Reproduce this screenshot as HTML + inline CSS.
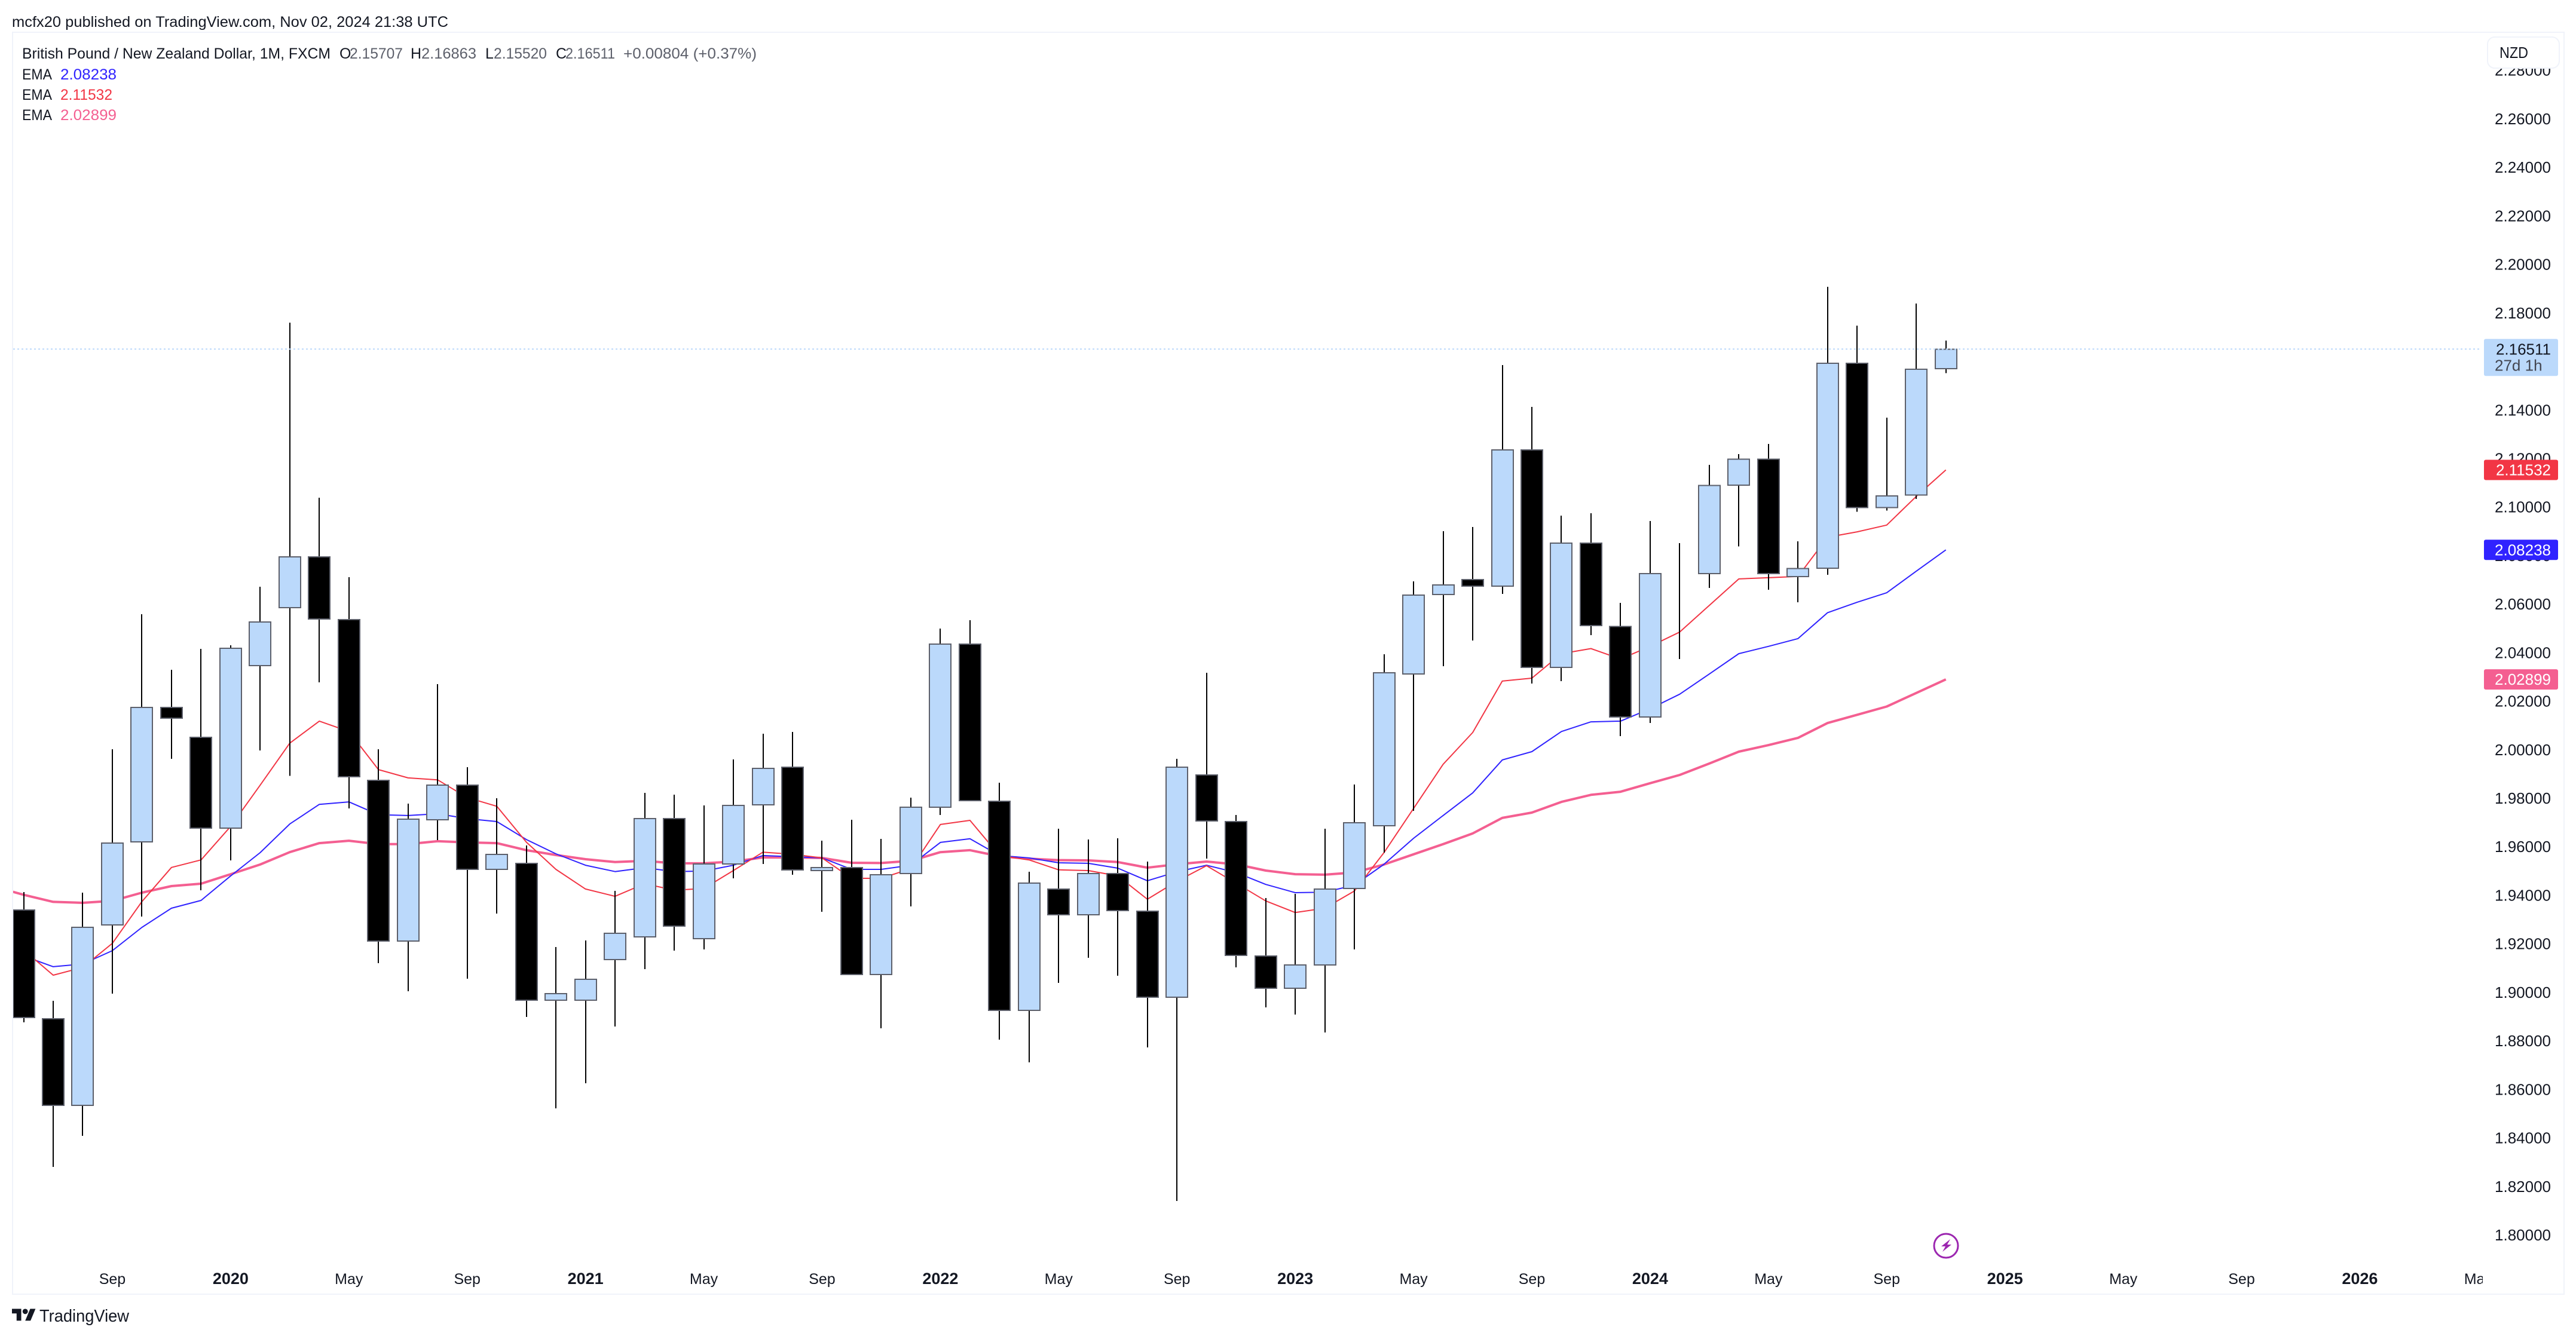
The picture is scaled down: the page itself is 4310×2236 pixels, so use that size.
<!DOCTYPE html>
<html lang="en">
<head>
<meta charset="utf-8">
<title>GBP/NZD monthly chart</title>
<style>
html,body{margin:0;padding:0;background:#fff;width:4310px;height:2236px;overflow:hidden}
svg{display:block;font-family:"Liberation Sans",sans-serif}
</style>
</head>
<body>
<svg id="chart" xmlns="http://www.w3.org/2000/svg" width="4310" height="2236" viewBox="0 0 4310 2236">
  <defs>
    <clipPath id="plot-clip"><rect x="22" y="55" width="4130" height="2110"/></clipPath>
    <clipPath id="time-clip"><rect x="22" y="2110" width="4132" height="55"/></clipPath>
  </defs>
  <rect x="0" y="0" width="4310" height="2236" fill="#ffffff"/>
  <text x="20" y="45" font-size="25" fill="#131722" textLength="730" lengthAdjust="spacingAndGlyphs">mcfx20 published on TradingView.com, Nov 02, 2024 21:38 UTC</text>
  <rect x="21" y="54" width="4269" height="2112" fill="none" stroke="#f0f3fa" stroke-width="2"/>

  <g id="ema-layer" clip-path="url(#plot-clip)"></g>
  <g id="candle-layer" clip-path="url(#plot-clip)" shape-rendering="crispEdges"></g>
  <g id="price-line-layer" clip-path="url(#plot-clip)"></g>

  <g id="y-axis" font-size="26" fill="#131722" text-anchor="end"></g>
  <g id="x-axis" clip-path="url(#time-clip)" font-size="25" fill="#131722" text-anchor="middle"></g>

  <g>
    <rect x="4162" y="62" width="120" height="52" rx="12" fill="#ffffff" stroke="#f0f3fa" stroke-width="2"/>
    <text x="4182" y="97" font-size="26" fill="#131722" textLength="48" lengthAdjust="spacingAndGlyphs">NZD</text>
  </g>

  <g id="badge-layer" font-size="26"></g>

  <g font-size="25">
    <text x="37" y="98" fill="#131722" textLength="516" lengthAdjust="spacingAndGlyphs">British Pound / New Zealand Dollar, 1M, FXCM</text>
    <text x="568" y="98" fill="#131722">O</text>
    <text x="585" y="98" fill="#5d606b" textLength="89" lengthAdjust="spacingAndGlyphs">2.15707</text>
    <text x="687" y="98" fill="#131722">H</text>
    <text x="705" y="98" fill="#5d606b" textLength="92" lengthAdjust="spacingAndGlyphs">2.16863</text>
    <text x="812" y="98" fill="#131722">L</text>
    <text x="826" y="98" fill="#5d606b" textLength="89" lengthAdjust="spacingAndGlyphs">2.15520</text>
    <text x="930" y="98" fill="#131722">C</text>
    <text x="946" y="98" fill="#5d606b" textLength="83" lengthAdjust="spacingAndGlyphs">2.16511</text>
    <text x="1043" y="98" fill="#5d606b" textLength="223" lengthAdjust="spacingAndGlyphs">+0.00804 (+0.37%)</text>
    <text x="37" y="133" fill="#131722" textLength="50" lengthAdjust="spacingAndGlyphs">EMA</text>
    <text x="101" y="133" fill="#3023ff" textLength="94" lengthAdjust="spacingAndGlyphs">2.08238</text>
    <text x="37" y="167" fill="#131722" textLength="50" lengthAdjust="spacingAndGlyphs">EMA</text>
    <text x="101" y="167" fill="#f23645" textLength="87" lengthAdjust="spacingAndGlyphs">2.11532</text>
    <text x="37" y="201" fill="#131722" textLength="50" lengthAdjust="spacingAndGlyphs">EMA</text>
    <text x="101" y="201" fill="#f45f91" textLength="94" lengthAdjust="spacingAndGlyphs">2.02899</text>
  </g>

  <g>
    <circle cx="3256" cy="2085" r="20" fill="#ffffff" stroke="#9c27b0" stroke-width="3"/>
    <path d="M3263 2074 L3248 2086 L3255 2086 L3250 2095 L3265 2083 L3258 2083 Z" fill="#9c27b0"/>
  </g>

  <g>
    <g transform="translate(20 2186) scale(1.11 1.11)" fill="#131722">
      <path d="M14 22H7V11H0V4h14v18zM28 22h-8l7.5-18h8L28 22z"/>
      <circle cx="20" cy="8" r="4"/>
    </g>
    <text x="66" y="2212" font-size="29" fill="#131722" textLength="150" lengthAdjust="spacingAndGlyphs">TradingView</text>
  </g>
</svg>
<script>
// Monthly candles, Jun 2019 to Nov 2024
const openPrices = [
1.9340,1.8891,1.8534,1.9278,1.9620,2.0174,2.0051,1.9677,2.0347,2.0586,
2.0795,2.0536,1.9874,1.9212,1.9711,1.9854,1.9507,1.9532,1.8968,1.8968,
1.9135,1.9229,1.9716,1.9221,1.9529,1.9773,1.9928,1.9502,1.9514,1.9074,
1.9490,1.9763,2.0435,1.9788,1.8926,1.9426,1.9320,1.9490,1.9335,1.8980,
1.9896,1.9704,1.9150,1.9017,1.9113,1.9428,1.9687,2.0312,2.0640,2.0701,
2.0674,2.1236,2.0339,2.0852,2.0508,2.0135,2.0729,2.0726,2.1090,2.1198,
2.0714,2.0748,2.1593,2.0998,2.1050,2.15707];
const highPrices = [
1.9413,1.8965,1.9411,2.0002,2.0559,2.0330,2.0416,2.0431,2.0672,2.1760,
2.1039,2.0711,2.0002,1.9778,2.0270,1.9928,1.9800,1.9606,1.9187,1.9214,
1.9418,1.9822,1.9815,1.9771,1.9960,2.0066,2.0073,1.9625,1.9711,1.9633,
1.9803,2.0499,2.0534,1.9864,1.9497,1.9675,1.9630,1.9635,1.9539,1.9963,
2.0317,1.9731,1.9389,1.9406,1.9675,1.9857,2.0394,2.0694,2.0901,2.0918,
2.1585,2.1413,2.0965,2.0975,2.0605,2.0943,2.0852,2.1174,2.1218,2.1260,
2.0859,2.1908,2.1748,2.1369,2.1839,2.16863];
const lowPrices = [
1.8877,1.8281,1.8409,1.8995,1.9313,1.9963,1.9421,1.9544,1.9997,1.9892,
2.0278,1.9758,1.9120,1.9005,1.9628,1.9056,1.9325,1.8899,1.8522,1.8625,
1.8859,1.9096,1.9172,1.9177,1.9470,1.9529,1.9485,1.9332,1.9074,1.8852,
1.9354,1.9731,1.9790,1.8805,1.8712,1.9039,1.9143,1.9069,1.8773,1.8140,
1.9551,1.9103,1.8938,1.8909,1.8835,1.9177,1.9576,1.9748,2.0344,2.0450,
2.0642,2.0273,2.0283,2.0472,2.0056,2.0110,2.0374,2.0667,2.0838,2.0660,
2.0608,2.0721,2.0981,2.0986,2.1034,2.15520];
const closePrices = [
1.8896,1.8534,1.9268,1.9615,2.0174,2.0130,1.9677,2.0418,2.0527,2.0795,
2.0539,1.9889,1.9212,1.9714,1.9854,1.9507,1.9569,1.8968,1.8995,1.9054,
1.9244,1.9716,1.9273,1.9529,1.9771,1.9923,1.9505,1.9514,1.9074,1.9485,
1.9763,2.0435,1.9790,1.8926,1.9450,1.9320,1.9490,1.9337,1.8980,1.9928,
1.9707,1.9152,1.9017,1.9113,1.9426,1.9699,2.0317,2.0637,2.0679,2.0674,
2.1236,2.0339,2.0852,2.0512,2.0135,2.0726,2.0729,2.1089,2.1198,2.0726,
2.0747,2.1593,2.0998,2.1046,2.1568,2.16511];

// EMA series: the first value belongs to the month before the first candle (May 2019)
const emaBlue = [1.9202,
1.9150,1.9106,1.9117,1.9172,1.9268,1.9347,1.9379,1.9480,1.9576,1.9694,
1.9775,1.9785,1.9732,1.9729,1.9736,1.9716,1.9704,1.9630,1.9571,1.9524,
1.9498,1.9514,1.9498,1.9500,1.9524,1.9564,1.9559,1.9554,1.9507,1.9507,
1.9524,1.9618,1.9633,1.9564,1.9554,1.9534,1.9532,1.9512,1.9460,1.9497,
1.9524,1.9494,1.9445,1.9411,1.9413,1.9442,1.9528,1.9635,1.9729,1.9822,
1.9958,1.9992,2.0075,2.0115,2.0118,2.0169,2.0229,2.0312,2.0396,2.0426,
2.0458,2.0565,2.0608,2.0647,2.0736,2.08238];
const emaRed = [1.9253,
1.9175,1.9071,1.9103,1.9202,1.9374,1.9515,1.9546,1.9684,1.9854,2.0027,
2.0118,2.0075,1.9918,1.9884,1.9876,1.9803,1.9767,1.9619,1.9507,1.9426,
1.9396,1.9448,1.9421,1.9428,1.9502,1.9578,1.9569,1.9554,1.9470,1.9470,
1.9510,1.9692,1.9709,1.9564,1.9546,1.9505,1.9502,1.9480,1.9384,1.9458,
1.9522,1.9450,1.9377,1.9329,1.9347,1.9418,1.9576,1.9758,1.9940,2.0071,
2.0283,2.0295,2.0396,2.0417,2.0374,2.0426,2.0485,2.0595,2.0704,2.0709,
2.0714,2.0876,2.0898,2.0926,2.1044,2.11532];
const emaPink = [1.9436,
1.9402,1.9373,1.9369,1.9377,1.9411,1.9438,1.9448,1.9487,1.9527,1.9578,
1.9615,1.9625,1.9611,1.9611,1.9623,1.9618,1.9615,1.9586,1.9566,1.9549,
1.9537,1.9542,1.9532,1.9532,1.9539,1.9556,1.9556,1.9554,1.9534,1.9533,
1.9542,1.9578,1.9586,1.9561,1.9551,1.9545,1.9544,1.9537,1.9514,1.9528,
1.9539,1.9528,1.9502,1.9487,1.9485,1.9494,1.9527,1.9569,1.9611,1.9655,
1.9719,1.9741,1.9785,1.9814,1.9827,1.9862,1.9896,1.9943,1.9992,2.0019,
2.0049,2.0110,2.0144,2.0178,2.0234,2.02899];

const priceTicks = ["2.28000","2.26000","2.24000","2.22000","2.20000","2.18000","2.16000","2.14000","2.12000","2.10000","2.08000","2.06000","2.04000","2.02000","2.00000","1.98000","1.96000","1.94000","1.92000","1.90000","1.88000","1.86000","1.84000","1.82000","1.80000"];
const timeLabels = ["Sep","2020","May","Sep","2021","May","Sep","2022","May","Sep","2023","May","Sep","2024","May","Sep","2025","May","Sep","2026","May"];
const lastPrice = "2.16511";
const countdownLabel = "27d 1h";

function xScale(i) { return 39.5 + 49.48 * i; }
function yScale(p) { return 2067 - (p - 1.8) * 4061; }

const NS = "http://www.w3.org/2000/svg";
function make(tag, parent) {
  const el = document.createElementNS(NS, tag);
  parent.appendChild(el);
  return el;
}

const emaLayer = document.getElementById("ema-layer");
function drawEma(values, color, width, name) {
  const line = make("polyline", emaLayer);
  
  
  line.setAttribute("points", values.map(function (v, k) {
    return xScale(k - 1).toFixed(1) + "," + yScale(v).toFixed(1);
  }).join(" "));
  line.setAttribute("fill", "none");
  line.setAttribute("stroke", color);
  line.setAttribute("stroke-width", width);
  line.setAttribute("stroke-linejoin", "round");
}
drawEma(emaPink, "#f45f91", 4, "ema-pink-line");
drawEma(emaBlue, "#3023ff", 2, "ema-blue-line");
drawEma(emaRed, "#f23645", 2, "ema-red-line");

const candleLayer = document.getElementById("candle-layer");
openPrices.forEach(function (o, i) {
  const c = closePrices[i];
  const cx = Math.round(xScale(i));
  const up = c >= o;
  const wick = make("rect", candleLayer);
  
  
  wick.setAttribute("x", cx - 1);
  wick.setAttribute("y", yScale(highPrices[i]));
  wick.setAttribute("width", 2);
  wick.setAttribute("height", yScale(lowPrices[i]) - yScale(highPrices[i]));
  wick.setAttribute("fill", "#000000");
  const body = make("rect", candleLayer);
  
  
  body.setAttribute("x", cx - 18);
  body.setAttribute("y", yScale(Math.max(o, c)));
  body.setAttribute("width", 36);
  body.setAttribute("height", Math.abs(yScale(o) - yScale(c)));
  body.setAttribute("fill", up ? "#bbd9fb" : "#000000");
  body.setAttribute("stroke", "#5d606b");
  body.setAttribute("stroke-width", 2);
});

const priceLineLayer = document.getElementById("price-line-layer");
const priceLine = make("line", priceLineLayer);


priceLine.setAttribute("x1", 22);
priceLine.setAttribute("x2", 4152);
priceLine.setAttribute("y1", yScale(parseFloat(lastPrice)));
priceLine.setAttribute("y2", yScale(parseFloat(lastPrice)));
priceLine.setAttribute("stroke", "#bbd9fb");
priceLine.setAttribute("stroke-width", 2);
priceLine.setAttribute("stroke-dasharray", "3 4");

const yAxis = document.getElementById("y-axis");
priceTicks.forEach(function (label) {
  const t = make("text", yAxis);
  
  
  t.setAttribute("x", 4268);
  t.setAttribute("y", yScale(parseFloat(label)) + 9);
  t.textContent = label;
});

const xAxis = document.getElementById("x-axis");
timeLabels.forEach(function (label, k) {
  const t = make("text", xAxis);
  const isYear = /^\d+$/.test(label);
  
  
  t.setAttribute("x", xScale(3 + 4 * k));
  t.setAttribute("y", 2149);
  if (isYear) {
    t.setAttribute("font-weight", "bold");
    t.setAttribute("font-size", "27");
  }
  t.textContent = label;
});

const badgeLayer = document.getElementById("badge-layer");
function drawBadge(value, color, textColor, name, tall) {
  const y = yScale(value);
  const top = tall ? y - 17 : y - 17;
  const h = tall ? 62 : 34;
  const box = make("rect", badgeLayer);
  
  
  box.setAttribute("x", 4156);
  box.setAttribute("y", top);
  box.setAttribute("width", 124);
  box.setAttribute("height", h);
  box.setAttribute("rx", 3);
  box.setAttribute("fill", color);
  const t = make("text", badgeLayer);
  
  
  t.setAttribute("x", 4268);
  t.setAttribute("y", y + 9);
  t.setAttribute("text-anchor", "end");
  t.setAttribute("fill", textColor);
  t.textContent = value.toFixed(5);
}
drawBadge(parseFloat(lastPrice), "#bbd9fb", "#131722", "last-price-badge", true);
drawBadge(emaRed[emaRed.length - 1], "#f23645", "#ffffff", "ema-red-badge", false);
drawBadge(emaBlue[emaBlue.length - 1], "#3023ff", "#ffffff", "ema-blue-badge", false);
drawBadge(emaPink[emaPink.length - 1], "#f45f91", "#ffffff", "ema-pink-badge", false);

const countdown = make("text", badgeLayer);


countdown.setAttribute("x", 4174);
countdown.setAttribute("y", yScale(parseFloat(lastPrice)) + 36);
countdown.setAttribute("fill", "#434651");
countdown.textContent = countdownLabel;
</script>
</body>
</html>
